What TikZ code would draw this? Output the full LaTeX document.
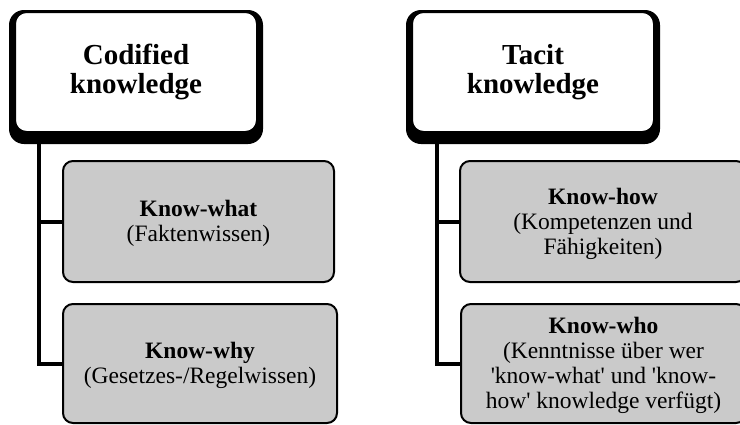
\documentclass[tikz,border=0pt]{standalone}
\usepackage{fontspec}
\setmainfont{Liberation Serif}
\usetikzlibrary{backgrounds}
\definecolor{boxgray}{RGB}{202,202,202}
\tikzset{
  headbox/.style={draw=black, fill=white, line width=3pt, rounded corners=12pt,
    minimum width=243pt, minimum height=121pt, inner sep=0pt, align=center,
    font=\bfseries\fontsize{29}{29}\selectfont},
  headshadow/.style={fill=black, rounded corners=15pt},
  itembox/.style={draw=black, fill=boxgray, line width=2pt, rounded corners=10pt, inner sep=0pt},
  itemtext/.style={align=center, inner sep=0pt, font=\fontsize{23.5}{25}\selectfont},
  conn/.style={draw=black, line width=4pt}
}
\newcommand{\sq}{\textquotesingle}
\begin{document}
\begin{tikzpicture}[x=1pt, y=-1pt]
\useasboundingbox (0,0) rectangle (740,424);

% column headings
\node[headbox] (cod) at (136,72) {Codified\\knowledge};
\node[headbox] (tac) at (533,72) {Tacit\\knowledge};
\begin{scope}[on background layer]
  \fill[headshadow] ([xshift=-4pt]cod.north west) rectangle ([xshift=4pt,yshift=-10pt]cod.south east);
  \fill[headshadow] ([xshift=-4pt]tac.north west) rectangle ([xshift=4pt,yshift=-10pt]tac.south east);
\end{scope}

% knowledge types
\node[itembox, minimum width=271pt, minimum height=121pt] (what) at (198.5,221.5) {};
\node[itembox, minimum width=274pt, minimum height=119pt] (why) at (200,363.5) {};
\node[itembox, minimum width=286pt, minimum height=121pt] (how) at (603,221.5) {};
\node[itembox, minimum width=285pt, minimum height=119pt] (who) at (603.5,363.5) {};

\node[itemtext] (whatT) at ([yshift=-2pt]what.center) {\textbf{Know-what}\\(Faktenwissen)};
\node[itemtext] (whyT) at ([yshift=-2pt]why.center) {\textbf{Know-why}\\(Gesetzes-/Regelwissen)};
\node[itemtext] (howT) at ([yshift=-2pt]how.center) {\textbf{Know-how}\\(Kompetenzen und\\Fähigkeiten)};
\node[itemtext] (whoT) at ([yshift=-2pt]who.center) {\textbf{Know-who}\\(Kenntnisse über wer\\\sq know-what\sq{} und \sq know-\\how\sq{} knowledge verfügt)};

% tree connectors
\coordinate (ltop) at (cod.south -| 39,0);
\coordinate (rtop) at (tac.south -| 437,0);
\draw[conn] (ltop) |- (why.west);
\draw[conn] (ltop |- what.west) -- (what.west);
\draw[conn] (rtop) |- (who.west);
\draw[conn] (rtop |- how.west) -- (how.west);
\end{tikzpicture}
\end{document}
